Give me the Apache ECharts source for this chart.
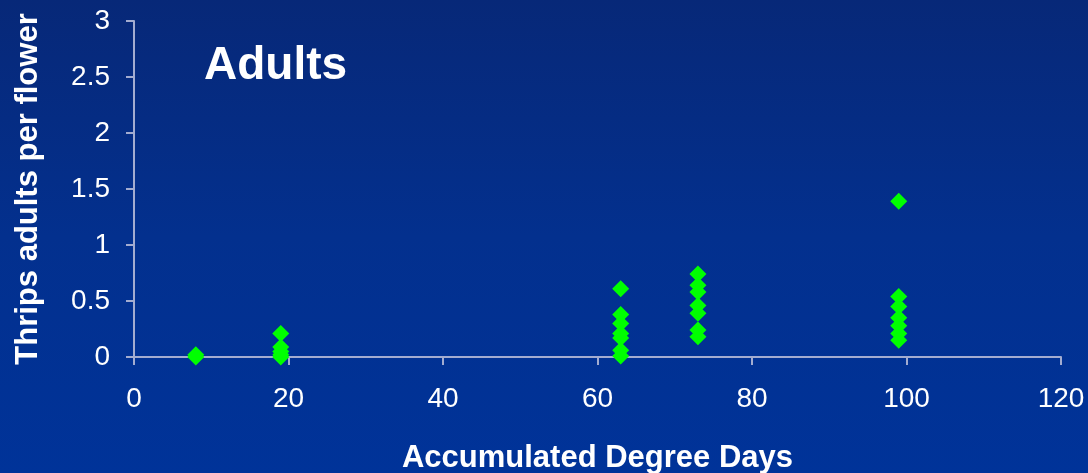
<!DOCTYPE html>
<html>
<head>
<meta charset="utf-8">
<style>
  html, body { margin: 0; padding: 0; }
  #chart { width: 1088px; height: 473px; }
</style>
<script src="https://cdn.jsdelivr.net/npm/echarts@6/dist/echarts.min.js"></script>
</head>
<body>
<div id="chart"></div>
<script>
// Thrips adults counted per flower against accumulated degree days
const degreeDays = [
  8, 8,
  19, 19, 19, 19, 19,
  63, 63, 63, 63, 63, 63, 63,
  73, 73, 73, 73, 73, 73, 73,
  99, 99, 99, 99, 99, 99, 99
];
const adultsPerFlower = [
  0.02, 0.0,
  0.21, 0.09, 0.05, 0.02, 0.0,
  0.61, 0.38, 0.30, 0.21, 0.17, 0.06, 0.01,
  0.74, 0.64, 0.58, 0.46, 0.39, 0.24, 0.18,
  1.39, 0.54, 0.45, 0.35, 0.28, 0.21, 0.15
];
const xTicks = [0, 20, 40, 60, 80, 100, 120];
const yTicks = [0, 0.5, 1, 1.5, 2, 2.5, 3];

const points = degreeDays.map((d, i) => [d, adultsPerFlower[i]]);

const font = '"Liberation Sans", Arial, sans-serif';
const axisColor = '#a3acd0';

const chart = echarts.init(document.getElementById('chart'), null, { renderer: 'canvas' });
chart.setOption({
  backgroundColor: {
    type: 'linear', x: 0, y: 0, x2: 0, y2: 1,
    colorStops: [
      { offset: 0, color: '#072878' },
      { offset: 0.5, color: '#03308e' },
      { offset: 1, color: '#003399' }
    ]
  },
  animation: false,
  title: {
    text: 'Adults',
    left: 199, top: 38,
    textStyle: { color: '#ffffff', fontFamily: font, fontWeight: 'bold', fontSize: 46 }
  },
  grid: {
    left: 134, right: 27, top: 21, bottom: 116,
    containLabel: false, outerBoundsMode: 'none'
  },
  xAxis: {
    type: 'value',
    min: xTicks[0], max: xTicks[xTicks.length - 1], interval: 20,
    name: 'Accumulated Degree Days',
    nameLocation: 'middle', nameGap: 86,
    nameTextStyle: { color: '#ffffff', fontFamily: font, fontWeight: 'bold', fontSize: 31 },
    axisLine: { show: true, lineStyle: { color: axisColor, width: 2 } },
    axisTick: { show: true, length: 8, lineStyle: { color: axisColor, width: 2 } },
    axisLabel: { color: '#ffffff', fontFamily: font, fontSize: 28, margin: 28 },
    splitLine: { show: false }
  },
  yAxis: {
    type: 'value',
    min: yTicks[0], max: yTicks[yTicks.length - 1], interval: 0.5,
    name: 'Thrips adults per flower',
    nameLocation: 'middle', nameGap: 90,
    nameTextStyle: { color: '#ffffff', fontFamily: font, fontWeight: 'bold', fontSize: 31 },
    axisLine: { show: true, lineStyle: { color: axisColor, width: 2 } },
    axisTick: { show: true, length: 8, lineStyle: { color: axisColor, width: 2 } },
    axisLabel: { color: '#ffffff', fontFamily: font, fontSize: 28, margin: 24 },
    splitLine: { show: false }
  },
  series: [{
    type: 'scatter',
    data: points,
    symbol: 'diamond',
    symbolSize: [17, 17],
    itemStyle: { color: '#00ff00', opacity: 1 }
  }]
});
</script>
</body>
</html>
